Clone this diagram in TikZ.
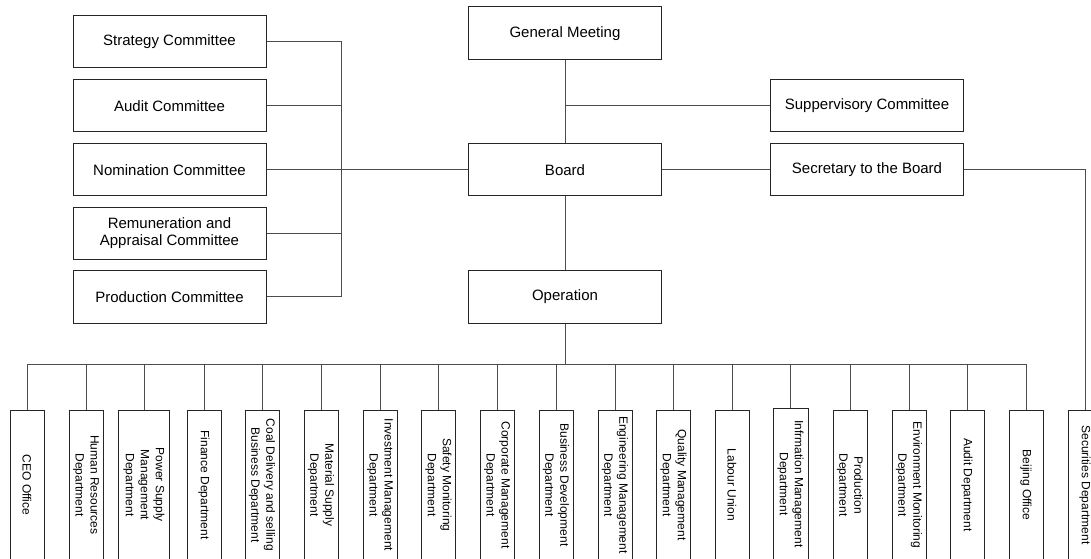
\documentclass[tikz,border=0pt]{standalone}
\usepackage{fontspec}
\setmainfont{Liberation Sans}
\begin{document}
\begin{tikzpicture}[x=0.75pt,y=-0.75pt,
  box/.style={draw=black!85, line width=0.75pt, minimum width=144.75pt, minimum height=39pt,
    inner sep=0pt, align=center, font=\fontsize{11.25}{12.75}\selectfont},
  dept/.style={draw=black!85, line width=0.75pt, minimum height=112.5pt, inner sep=0pt},
  dtext/.style={rotate=-90, align=center, inner sep=0pt, font=\fontsize{9}{11.25}\selectfont},
  conn/.style={draw=black!70, line width=0.75pt}]
\useasboundingbox (0,0) rectangle (1091,559);
\clip (0,0) rectangle (1091,559);
% committees
\node[box] (strat) at (169.5,42) {Strategy Committee};
\node[box] (audit) at (169.5,106) {Audit Committee};
\node[box] (nom) at (169.5,170) {Nomination Committee};
\node[box] (rem) at (169.5,233.5) {Remuneration and\\Appraisal Committee};
\node[box] (prod) at (169.5,297) {Production Committee};
% central column
\node[box, minimum height=39.75pt] (gm) at (565,33.5) {General Meeting};
\node[box] (board) at (565,170) {Board};
\node[box] (oper) at (565,297) {Operation};
\node[box] (sup) at (867,106) {Suppervisory Committee};
\node[box] (sec) at (867,170) {Secretary to the Board};
% departments
\foreach \i/\x/\w/\t in {
  1/27/25.5/{CEO Office},
  2/86/25.5/{Human Resources\\Department},
  3/144/38.25/{Power Supply\\Management\\Department},
  4/204/25.5/{Finance Department},
  5/262/25.5/{Coal Delivery and selling\\Business Department},
  6/321/25.5/{Material Supply\\Department},
  7/380/25.5/{Investment Management\\Department},
  8/438.5/25.5/{Safety Monitoring\\Department},
  9/497/25.5/{Corporate Management\\Department},
  10/556/25.5/{Business Development\\Department},
  11/615/25.5/{Engineering Management\\Department},
  12/673.5/25.5/{Quality Management\\Department},
  13/732/25.5/{Labour Union},
  15/850/25.5/{Production\\Department},
  16/909/25.5/{Environment Monitoring\\Department},
  17/967/25.5/{Audit Department},
  18/1026/25.5/{Beijing Office},
  19/1085/25.5/{Securities Department}}{
  \node[dept, minimum width=\w pt] (d\i) at (\x,485) {};
  \node[dtext] (t\i) at (d\i.center) {\t};
}
\node[dept, minimum width=26.25pt, minimum height=114pt] (d14) at (790.5,484) {};
\node[dtext] (t14) at (d14.center) {Infrmation Management\\Department};
% connectors: committees
\coordinate (cbus) at (341,170);
\draw[conn] (strat.east) -- (strat.east -| cbus) -- (prod.east -| cbus) -- (prod.east);
\draw[conn] (audit.east) -- (audit.east -| cbus);
\draw[conn] (rem.east) -- (rem.east -| cbus);
\draw[conn] (nom.east) -- (board.west);
% central
\draw[conn] (gm.south) -- (board.north);
\draw[conn] (gm.south |- sup.west) -- (sup.west);
\draw[conn] (board.east) -- (sec.west);
\draw[conn] (board.south) -- (oper.north);
\coordinate (bus) at (565,364);
\draw[conn] (oper.south) -- (bus);
\draw[conn] (d1.north |- bus) -- (d18.north |- bus);
\foreach \i in {1,...,18}{
  \draw[conn] (d\i.north |- bus) -- (d\i.north);
}
\draw[conn] (sec.east) -| (d19.north);
\end{tikzpicture}
\end{document}
